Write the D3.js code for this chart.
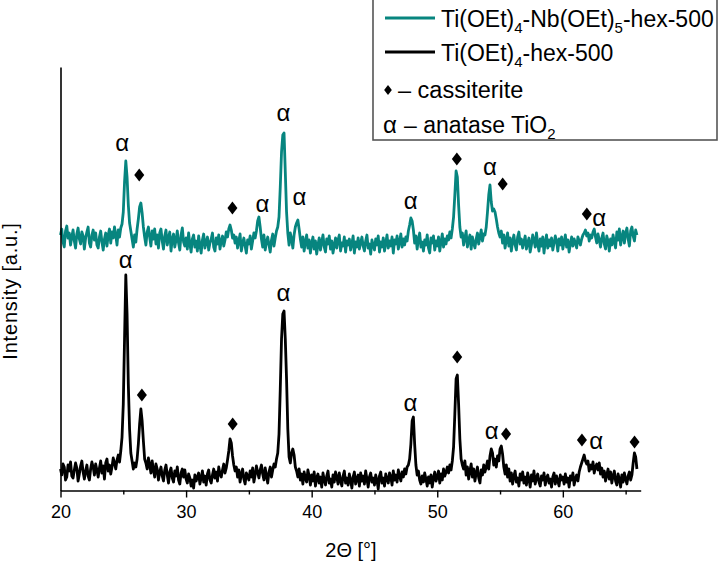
<!DOCTYPE html>
<html><head><meta charset="utf-8">
<script src="https://cdn.jsdelivr.net/npm/d3@7"></script>
<style>
body{margin:0;background:#fff}
svg{display:block}
text{font-family:"Liberation Sans",Arial,Helvetica,sans-serif;fill:#000}
</style>
</head><body>
<svg id="chart" width="720" height="564"></svg>
<script>
// ---- data ----
const startAngle = 20.0;      // 2-theta of first sample
const angleStep = 0.1;        // sampling step in degrees

// Ti(OEt)4-hex-500 (black), one row per degree (20..65), 10 samples per row
const blackCounts = [
  20,14,25,22,9,12,24,18,27,13,
  11,19,26,21,8,15,23,28,17,10,
  18,24,13,9,20,27,22,14,25,19,
  12,21,28,16,23,10,26,30,18,24,
  15,22,31,26,20,29,34,27,38,52,
  85,150,214,175,105,60,36,28,20,26,
  22,30,45,65,80,68,48,30,26,20,
  31,24,16,28,19,12,25,20,9,17,
  22,13,8,19,24,14,6,17,21,11,
  7,18,13,22,9,5,16,20,12,19,
  10,6,15,11,3,9,1,14,8,12,
  16,5,11,18,7,13,4,15,19,9,
  6,14,20,11,17,8,22,15,12,19,
  25,16,21,29,38,50,46,33,24,18,
  22,12,19,7,15,20,10,5,16,13,
  9,18,12,21,7,14,23,17,11,19,
  24,15,9,21,13,6,17,22,12,19,
  25,22,30,36,55,100,150,175,178,150,
  110,60,32,26,36,40,34,22,18,12,
  20,9,15,5,17,11,7,19,13,4,
  14,8,17,3,11,15,6,12,2,16,
  9,4,13,18,6,10,2,14,7,17,
  12,5,16,8,3,13,18,6,11,4,
  15,9,1,12,17,5,10,14,3,16,
  8,13,5,18,10,2,12,16,7,11,
  4,14,9,0,13,17,6,11,3,15,
  10,6,16,12,4,18,9,14,7,19,
  13,8,17,12,20,15,22,24,30,45,
  68,72,45,24,14,18,9,5,13,7,
  16,10,3,12,6,14,2,11,17,8,
  12,18,6,15,9,20,13,17,22,16,
  24,19,28,42,75,110,114,85,50,30,
  24,20,28,14,22,10,18,25,12,20,
  8,16,22,11,6,19,14,24,17,22,
  28,20,33,40,36,24,30,22,33,28,
  40,43,35,22,15,24,12,20,8,16,
  5,13,18,7,11,3,15,9,17,6,
  12,4,16,10,2,14,8,18,5,11,
  15,7,3,13,9,16,4,11,14,6,
  10,2,12,16,5,13,8,3,14,9,
  12,5,15,7,11,2,13,9,16,4,
  10,14,8,17,22,26,30,34,28,25,
  28,18,24,20,27,16,22,25,19,26,
  15,21,12,18,8,14,20,10,17,6,
  13,18,8,4,15,10,2,14,7,16,
  10,5,13,17,9,14,26,36,32,20
];

// Ti(OEt)4-Nb(OEt)5-hex-500 (teal), same grid, before stacking offset
const tealCounts = [
  22,28,15,10,26,31,19,24,12,20,
  27,16,9,23,29,18,13,25,21,8,
  19,25,30,14,10,22,27,17,24,12,
  9,20,26,15,7,18,24,11,22,28,
  14,25,19,30,22,12,27,20,29,33,
  45,75,96,80,52,34,26,18,10,22,
  15,28,38,50,54,44,30,20,12,25,
  30,20,11,26,18,28,13,22,9,24,
  28,16,8,21,27,12,19,25,6,18,
  23,10,17,26,14,7,22,29,15,11,
  19,8,24,13,5,18,22,10,16,6,
  21,12,4,17,23,9,15,20,7,14,
  18,24,10,6,19,13,22,8,16,21,
  11,17,25,20,28,32,27,19,22,14,
  20,9,16,23,6,14,19,11,4,17,
  13,21,8,16,24,19,26,36,40,30,
  18,10,22,7,15,20,12,5,17,23,
  11,19,26,30,40,70,105,122,124,85,
  45,24,12,24,18,9,22,30,34,37,
  28,18,10,20,6,15,22,9,17,4,
  14,20,8,16,3,12,19,7,15,22,
  10,5,18,13,21,8,16,4,12,19,
  9,17,22,6,14,11,20,5,16,12,
  18,7,13,21,4,15,10,19,8,14,
  20,11,6,16,22,9,13,3,17,12,
  7,18,12,21,5,15,10,19,6,14,
  22,9,16,11,20,4,17,13,21,8,
  15,23,10,18,12,20,16,26,32,39,
  36,27,14,21,8,18,24,10,15,6,
  17,12,22,9,4,19,14,21,7,16,
  11,20,6,15,23,10,18,13,21,17,
  25,19,28,40,62,86,80,52,30,20,
  24,12,19,26,10,17,22,8,20,14,
  9,18,24,13,20,27,16,23,22,30,
  45,62,72,55,46,48,45,38,30,24,
  20,26,14,22,9,17,24,11,19,6,
  16,22,12,7,20,25,13,18,9,15,
  21,8,14,19,5,12,22,17,10,24,
  13,6,18,11,20,4,15,22,9,17,
  11,19,7,14,21,16,6,18,12,20,
  8,15,22,10,17,5,13,20,11,18,
  14,9,20,16,12,18,22,24,27,21,
  24,16,22,19,25,28,20,14,23,17,
  10,19,24,13,8,21,16,6,18,12,
  22,15,9,25,17,28,12,20,26,14,
  24,29,18,11,26,30,21,16,27,22
];
const tealOffset = 232;       // vertical stacking offset of the teal pattern

const seriesColors = ["#07857f", "#000000"];

const xMajorTicks = [20, 30, 40, 50, 60];
const xMinorTicks = [25, 35, 45, 55, 65];

// reflex annotations: [2-theta, height (plot units), kind]  a = anatase, c = cassiterite
const tealMarks = [
  [24.92,344,"a"],[26.27,314,"c"],[33.69,281,"c"],[36.08,283,"a"],[37.76,374,"a"],[39.03,290,"a"],
  [47.89,286,"a"],[51.56,330,"c"],[54.19,320,"a"],[55.21,305,"c"],[61.91,275,"c"],[62.9,269,"a"]
];
const blackMarks = [
  [25.2,227,"a"],[26.48,94,"c"],[33.71,65,"c"],[37.76,194,"a"],[47.87,84,"a"],[51.59,132,"c"],
  [54.33,56,"a"],[55.48,55,"c"],[61.52,49,"c"],[62.66,46,"a"],[65.71,47,"c"]
];

// legend rows: text segments, [text, isSubscript]
const legendRows = [
  [["Ti(OEt)", false], ["4", true], ["-Nb(OEt)", false], ["5", true], ["-hex-500", false]],
  [["Ti(OEt)", false], ["4", true], ["-hex-500", false]]
];
const cassiteriteLabel = "– cassiterite";
const anataseLabel = [["– anatase TiO", false], ["2", true]];

// ---- drawing ----
const svg = d3.select("#chart");
const x = d3.scaleLinear().domain([20, 66.2]).range([60.5, 640.7]);
const y = d3.scaleLinear().domain([-1.5, 422]).range([490.5, 67]);

const toPoints = arr => arr.map((v, i) => ({a: startAngle + i * angleStep, v}));
const line = d3.line().x(d => x(d.a)).y(d => y(d.v));

svg.append("path").datum(toPoints(tealCounts).map(d => ({a: d.a, v: d.v + tealOffset})))
  .attr("d", line).attr("fill", "none").attr("stroke", seriesColors[0])
  .attr("stroke-width", 2.8).attr("stroke-linejoin", "round");
svg.append("path").datum(toPoints(blackCounts))
  .attr("d", line).attr("fill", "none").attr("stroke", seriesColors[1])
  .attr("stroke-width", 2.8).attr("stroke-linejoin", "round");

// axes
const allTicks = xMajorTicks.concat(xMinorTicks).sort((a, b) => a - b);
const xAxis = svg.append("g").attr("transform", `translate(0,${y(-1.5)})`)
  .call(d3.axisBottom(x).tickValues(allTicks).tickSize(7).tickSizeOuter(0).tickPadding(8)
    .tickFormat(d => xMajorTicks.includes(d) ? d : ""));
xAxis.select(".domain").attr("stroke", "#000").attr("stroke-width", 1.6);
xAxis.selectAll(".tick line").attr("stroke-width", 1.4)
  .attr("y2", d => xMajorTicks.includes(d) ? 7 : 4);
xAxis.selectAll(".tick text").attr("font-size", 18).attr("font-family", "Liberation Sans, Arial, sans-serif").attr("fill", "#000");

const yAxis = svg.append("g").attr("transform", `translate(${x(20)},0)`)
  .call(d3.axisLeft(y).ticks(0).tickSizeOuter(0));
yAxis.select(".domain").attr("stroke", "#000").attr("stroke-width", 1.6);

svg.append("text").attr("x", 351).attr("y", 557).attr("text-anchor", "middle")
  .attr("font-size", 20).text("2Θ [°]");
svg.append("text").attr("transform", "translate(17,291) rotate(-90)").attr("text-anchor", "middle")
  .attr("font-size", 20).attr("letter-spacing", 0.8).text("Intensity [a.u.]");

// annotation markers
const diamond = {
  draw(c, s) {
    const hh = Math.sqrt(s) / 2, hw = hh * 0.77;
    c.moveTo(0, -hh); c.lineTo(hw, 0); c.lineTo(0, hh); c.lineTo(-hw, 0); c.closePath();
  }
};
function drawMarks(marks) {
  marks.forEach(([a, h, k]) => {
    if (k === "a") {
      svg.append("text").attr("x", x(a)).attr("y", y(h) + 5.5).attr("text-anchor", "middle")
        .attr("font-family", "Liberation Serif, serif").attr("font-size", 24).text("α");
    } else {
      svg.append("path").attr("transform", `translate(${x(a)},${y(h)})`)
        .attr("d", d3.symbol(diamond, 169)()).attr("fill", "#000");
    }
  });
}
drawMarks(tealMarks);
drawMarks(blackMarks);

// legend
const lg = svg.append("g");
lg.append("rect").attr("x", 373).attr("y", -1).attr("width", 344).attr("height", 141)
  .attr("fill", "#fff").attr("stroke", "#555").attr("stroke-width", 1.6);
const fs = 23;
function legendChem(xx, yy, segments) {
  const tx = lg.append("text").attr("x", xx).attr("y", yy).attr("font-size", fs);
  let prevSub = false;
  segments.forEach(([s, isSub]) => {
    const dy = isSub ? 6 : (prevSub ? -6 : 0);
    tx.append("tspan").attr("font-size", isSub ? 15 : fs).attr("dy", dy).text(s);
    prevSub = isSub;
  });
}
legendRows.forEach((segs, i) => {
  const ly = 18 + i * 34;
  lg.append("line").attr("x1", 385).attr("x2", 435).attr("y1", ly).attr("y2", ly)
    .attr("stroke", seriesColors[i]).attr("stroke-width", 3);
  legendChem(441, ly + 9, segs);
});
lg.append("path").attr("transform", "translate(388,90)").attr("d", d3.symbol(diamond, 100)()).attr("fill", "#000");
lg.append("text").attr("x", 398).attr("y", 98).attr("font-size", fs + 0.5).text(cassiteriteLabel);
lg.append("text").attr("x", 390).attr("y", 133).attr("text-anchor", "middle")
  .attr("font-family", "Liberation Serif, serif").attr("font-size", 24).text("α");
legendChem(404, 133, anataseLabel);
</script>
</body></html>
